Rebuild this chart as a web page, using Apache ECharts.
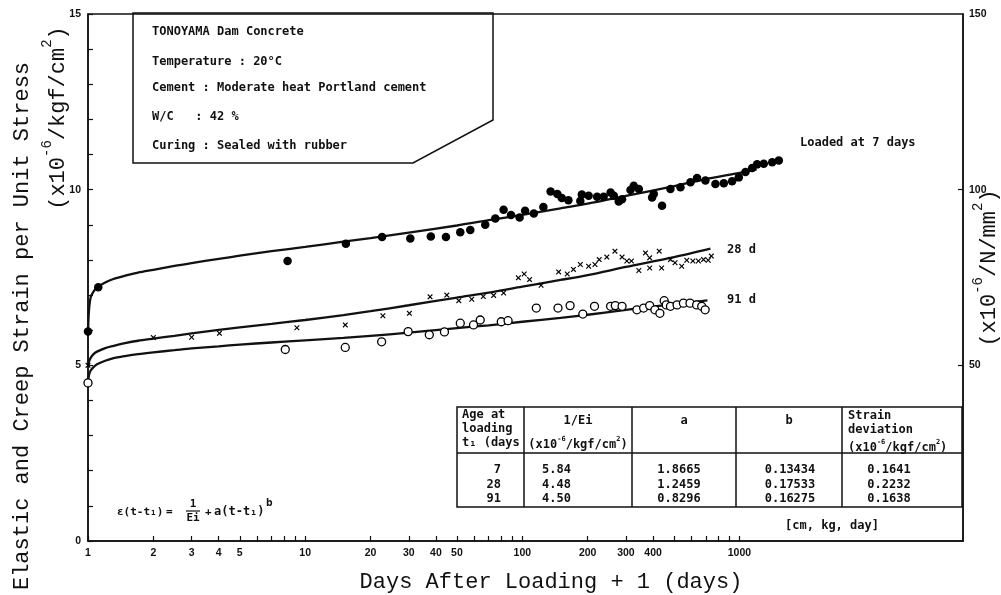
<!DOCTYPE html>
<html>
<head>
<meta charset="utf-8">
<title>Tonoyama Dam Concrete - creep</title>
<script src="https://cdn.jsdelivr.net/npm/echarts@6/dist/echarts.min.js"></script>
<style>
  html, body { margin: 0; padding: 0; background: #fff; }
  #chart { width: 1001px; height: 595px; }
</style>
</head>
<body>
<div id="chart"></div>
<script>
// x = days after loading + 1, y = strain per unit stress (x10^-6 / kgf/cm2)
const xTicks = [1, 2, 3, 4, 5, 6, 7, 8, 9, 10, 20, 30, 40, 50, 60, 70, 80, 90,
  100, 200, 300, 400, 500, 600, 700, 800, 900, 1000]
const xLabels = [1, 2, 3, 4, 5, 10, 20, 30, 40, 50, 100, 200, 300, 400, 1000]
const yLabels = [0, 5, 10, 15]
const rightLabels = [50, 100, 150]

// fitted curves
const fit7 = [[1, 5.9], [1.01, 6.55], [1.03, 6.95], [1.06, 7.1], [1.1, 7.22], [1.2, 7.36],
  [1.3, 7.45], [1.5, 7.56], [1.7, 7.64], [2, 7.72], [2.5, 7.83], [3, 7.91], [4, 8.03],
  [5, 8.12], [7, 8.25], [10, 8.37], [15, 8.52], [20, 8.62], [30, 8.78], [50, 8.98],
  [70, 9.13], [100, 9.28], [150, 9.47], [200, 9.6], [300, 9.82], [500, 10.1], [700, 10.3],
  [1000, 10.48], [1200, 10.58]]
const fit28 = [[1, 4.95], [1.01, 5.1], [1.03, 5.22], [1.06, 5.32], [1.1, 5.39], [1.2, 5.49],
  [1.3, 5.55], [1.5, 5.64], [1.7, 5.7], [2, 5.76], [2.5, 5.84], [3, 5.91], [4, 6.01],
  [5, 6.08], [7, 6.18], [10, 6.29], [15, 6.43], [20, 6.54], [30, 6.71], [50, 6.93],
  [70, 7.07], [100, 7.24], [150, 7.43], [200, 7.57], [300, 7.8], [500, 8.08], [735, 8.32]]
const fit91 = [[1, 4.5], [1.01, 4.72], [1.03, 4.86], [1.06, 4.95], [1.1, 5.03], [1.2, 5.13],
  [1.3, 5.2], [1.5, 5.27], [1.7, 5.32], [2, 5.37], [2.5, 5.43], [3, 5.48], [4, 5.54],
  [5, 5.59], [7, 5.65], [10, 5.71], [15, 5.78], [20, 5.84], [30, 5.93], [50, 6.06],
  [70, 6.14], [100, 6.24], [150, 6.35], [200, 6.44], [300, 6.58], [500, 6.74], [712, 6.85]]

// measured points
const obs7 = [[1, 5.96], [1.115, 7.22], [8.3, 7.97], [15.4, 8.46], [22.6, 8.65], [30.5, 8.61],
  [37.9, 8.67], [44.5, 8.65], [51.8, 8.79], [57.6, 8.85], [67.5, 9.0], [75.1, 9.18], [82, 9.43],
  [88.7, 9.28], [97.2, 9.21], [103, 9.4], [113, 9.32], [125, 9.51], [135, 9.95], [145, 9.88],
  [152, 9.76], [163, 9.7], [185, 9.68], [188, 9.86], [202, 9.83], [221, 9.8], [237, 9.8],
  [255, 9.92], [264, 9.83], [278, 9.66], [288, 9.73], [315, 9.99], [326, 10.11], [344, 10.02],
  [396, 9.78], [403, 9.88], [440, 9.54], [481, 10.02], [535, 10.07], [595, 10.21], [638, 10.33],
  [697, 10.26], [775, 10.16], [847, 10.18], [925, 10.24], [993, 10.35], [1066, 10.5],
  [1144, 10.62], [1206, 10.72], [1294, 10.74], [1415, 10.78], [1518, 10.83]]
const obs28 = [[1, 5.0], [2, 5.79], [3, 5.8], [4.03, 5.91], [9.16, 6.07], [15.3, 6.15],
  [22.8, 6.41], [30.2, 6.48], [37.6, 6.95], [44.9, 7.0], [51, 6.84], [58.5, 6.88], [66.1, 6.96],
  [73.8, 6.99], [82, 7.06], [95.9, 7.49], [102, 7.6], [108, 7.44], [122, 7.28], [147, 7.66],
  [161, 7.6], [172, 7.73], [185, 7.87], [202, 7.82], [216, 7.87], [226, 8.01], [245, 8.08],
  [267, 8.25], [288, 8.08], [303, 7.97], [318, 7.97], [344, 7.7], [369, 8.2], [386, 8.06],
  [386, 7.77], [427, 8.25], [438, 7.77], [481, 8.01], [505, 7.92], [542, 7.82], [572, 7.99],
  [610, 7.97], [647, 7.97], [683, 8.01], [718, 7.99], [742, 8.11]]
const obs91 = [[1, 4.5], [8.1, 5.45], [15.3, 5.51], [22.5, 5.67], [29.8, 5.96], [37.3, 5.87],
  [43.8, 5.95], [51.8, 6.2], [59.6, 6.15], [64, 6.29], [80, 6.24], [86, 6.27], [116, 6.63],
  [146, 6.63], [166, 6.7], [190, 6.46], [215, 6.68], [255, 6.68], [268, 6.7], [288, 6.68],
  [337, 6.58], [362, 6.63], [386, 6.7], [408, 6.58], [430, 6.48], [450, 6.84], [460, 6.72],
  [481, 6.68], [516, 6.72], [552, 6.77], [592, 6.77], [635, 6.72], [670, 6.68], [695, 6.58]]

// coefficient table
const loadAge = ['7', '28', '91']
const invEi = ['5.84', '4.48', '4.50']
const coefA = ['1.8665', '1.2459', '0.8296']
const coefB = ['0.13434', '0.17533', '0.16275']
const strainDev = ['0.1641', '0.2232', '0.1638']

const infoLines = [
  'TONOYAMA Dam Concrete',
  'Temperature : 20°C',
  'Cement : Moderate heat Portland cement',
  'W/C   : 42 %',
  'Curing : Sealed with rubber'
]

const MONO = '"DejaVu Sans Mono"'
const COUR = '"Liberation Mono"'
const crossMark = 'path://M0,1.5L1.5,0L5,3.5L8.5,0L10,1.5L6.5,5L10,8.5L8.5,10L5,6.5L1.5,10L0,8.5L3.5,5Z'

function txt (x, y, text, align, size) {
  return {
    type: 'text', x: x, y: y, z: 10,
    style: {
      text: text, fill: '#111', align: align || 'left', verticalAlign: 'middle',
      font: 'bold ' + (size || 12) + 'px ' + MONO
    }
  }
}

function supText (x, y, parts, size, rot, align) {
  // parts: [[text, isSup], ...]
  let s = ''
  parts.forEach(p => { s += '{' + (p[1] ? 's' : 'n') + '|' + p[0] + '}' })
  const big = size > 14
  return {
    type: 'text', x: x, y: y, rotation: rot || 0, z: 10,
    style: {
      text: s, align: align || 'center', verticalAlign: 'middle', fill: '#111',
      rich: {
        n: { fontFamily: big ? COUR : MONO, fontWeight: big ? 'normal' : 'bold', fontSize: size, lineHeight: size * 1.3, verticalAlign: 'bottom', fill: '#111' },
        s: { fontFamily: big ? COUR : MONO, fontWeight: big ? 'normal' : 'bold', fontSize: Math.round(size * 0.62), lineHeight: size * 1.3, verticalAlign: 'top', fill: '#111' }
      }
    }
  }
}

const graphics = []
// axis titles
graphics.push({
  type: 'text', x: 22, y: 326, rotation: Math.PI / 2, z: 10,
  style: { text: 'Elastic and Creep Strain per Unit Stress', font: '22px ' + COUR, fill: '#111', align: 'center', verticalAlign: 'middle' }
})
graphics.push(supText(55, 118, [['(x10', 0], ['-6', 1], ['/kgf/cm', 0], ['2', 1], [')', 0]], 22, Math.PI / 2))
graphics.push(supText(986, 268, [['(x10', 0], ['-6', 1], ['/N/mm', 0], ['2', 1], [')', 0]], 22, Math.PI / 2))
graphics.push({
  type: 'text', x: 551, y: 582, z: 10,
  style: { text: 'Days After Loading + 1 (days)', font: '22px ' + COUR, fill: '#111', align: 'center', verticalAlign: 'middle' }
})

// info box
graphics.push({
  type: 'polygon', z: 5,
  shape: { points: [[133, 13], [493, 13], [493, 120], [413, 163], [133, 163]] },
  style: { fill: 'none', stroke: '#111', lineWidth: 1.5 }
})
const infoY = [32, 62, 88, 117, 146]
infoLines.forEach((t, i) => graphics.push(txt(152, infoY[i], t)))

// curve labels
graphics.push(txt(800, 143, 'Loaded at 7 days'))
graphics.push(txt(727, 250, '28 d'))
graphics.push(txt(727, 300, '91 d'))

// formula
graphics.push(txt(117, 512, 'ε(t-t₁)', 'left', 11))
graphics.push(txt(166, 512, '=', 'left', 11))
graphics.push(txt(193, 504, '1', 'center', 11))
graphics.push({ type: 'line', z: 10, shape: { x1: 186, y1: 511, x2: 200, y2: 511 }, style: { stroke: '#111', lineWidth: 1.2 } })
graphics.push(txt(193, 518, 'Ei', 'center', 11))
graphics.push(txt(205, 512, '+', 'left', 11))
graphics.push(txt(214, 512, 'a(t-t₁)', 'left', 12))
graphics.push(txt(266, 503, 'b', 'left', 11))

// table
graphics.push({ type: 'rect', z: 5, shape: { x: 457, y: 407, width: 505, height: 100 }, style: { fill: '#fff', stroke: '#111', lineWidth: 1.5 } })
graphics.push({ type: 'line', z: 6, shape: { x1: 457, y1: 453, x2: 962, y2: 453 }, style: { stroke: '#111', lineWidth: 1.5 } })
;[524, 632, 736, 842].forEach(cx => graphics.push({ type: 'line', z: 6, shape: { x1: cx, y1: 407, x2: cx, y2: 507 }, style: { stroke: '#111', lineWidth: 1.5 } }))
graphics.push(txt(462, 415, 'Age at'))
graphics.push(txt(462, 429, 'loading'))
graphics.push(txt(462, 443, 't₁ (days'))
graphics.push(txt(578, 421, '1/Ei', 'center'))
graphics.push(supText(578, 443, [['(x10', 0], ['-6', 1], ['/kgf/cm', 0], ['2', 1], [')', 0]], 12))
graphics.push(txt(684, 421, 'a', 'center'))
graphics.push(txt(789, 421, 'b', 'center'))
graphics.push(txt(848, 416, 'Strain'))
graphics.push(txt(848, 430, 'deviation'))
graphics.push(supText(848, 446, [['(x10', 0], ['-6', 1], ['/kgf/cm', 0], ['2', 1], [')', 0]], 12, 0, 'left'))
const rowY = [470, 485, 499]
rowY.forEach((ry, i) => {
  graphics.push(txt(501, ry, loadAge[i], 'right'))
  graphics.push(txt(542, ry, invEi[i]))
  graphics.push(txt(679, ry, coefA[i], 'center'))
  graphics.push(txt(790, ry, coefB[i], 'center'))
  graphics.push(txt(889, ry, strainDev[i], 'center'))
})
graphics.push(txt(832, 526, '[cm, kg, day]', 'center'))

const tickLabel = { color: '#111', fontSize: 10.5, fontWeight: 'bold', fontFamily: 'Liberation Sans' }
const axisLine = { show: true, lineStyle: { color: '#111', width: 1.5 } }
const fitLine = { color: '#111', width: 2.3 }

const chart = echarts.init(document.getElementById('chart'), null, { renderer: 'canvas' })
chart.setOption({
  animation: false,
  backgroundColor: '#fff',
  grid: { left: 88, right: 38, top: 14, bottom: 54, show: true, borderColor: '#111', borderWidth: 1.5, backgroundColor: 'transparent' },
  xAxis: {
    type: 'log', logBase: 10, min: 1, max: 10700,
    axisLine: axisLine,
    axisTick: { show: true, inside: true, length: 5, customValues: xTicks, lineStyle: { color: '#111', width: 1.2 } },
    axisLabel: Object.assign({ customValues: xLabels, margin: 7, formatter: v => String(v) }, tickLabel),
    splitLine: { show: false },
    minorTick: { show: false }
  },
  yAxis: [
    {
      type: 'value', min: 0, max: 15, interval: 1,
      axisLine: axisLine,
      axisTick: { show: true, inside: true, length: 5, lineStyle: { color: '#111', width: 1.2 } },
      axisLabel: Object.assign({ customValues: yLabels, margin: 7 }, tickLabel),
      splitLine: { show: false }
    },
    {
      type: 'value', position: 'right', min: 0, max: 150, interval: 50,
      axisLine: axisLine,
      axisTick: { show: true, inside: true, length: 5, customValues: [50, 100], lineStyle: { color: '#111', width: 1.2 } },
      axisLabel: Object.assign({ customValues: rightLabels, margin: 6 }, tickLabel),
      splitLine: { show: false }
    }
  ],
  series: [
    { name: 'fit 7 d', type: 'line', data: fit7, smooth: 0.3, symbol: 'none', lineStyle: fitLine, z: 2, silent: true },
    { name: 'fit 28 d', type: 'line', data: fit28, smooth: 0.3, symbol: 'none', lineStyle: fitLine, z: 2, silent: true },
    { name: 'fit 91 d', type: 'line', data: fit91, smooth: 0.3, symbol: 'none', lineStyle: fitLine, z: 2, silent: true },
    { name: 'Loaded at 7 days', type: 'scatter', data: obs7, symbol: 'circle', symbolSize: 8.5, itemStyle: { color: '#000', opacity: 1 }, z: 3 },
    { name: 'Loaded at 28 days', type: 'scatter', data: obs28, symbol: crossMark, symbolSize: 5.5, itemStyle: { color: '#000', opacity: 1 }, z: 3 },
    { name: 'Loaded at 91 days', type: 'scatter', data: obs91, symbol: 'circle', symbolSize: 8, itemStyle: { color: '#fff', borderColor: '#000', borderWidth: 1.3, opacity: 1 }, z: 3 }
  ],
  graphic: { elements: graphics }
})
</script>
</body>
</html>
